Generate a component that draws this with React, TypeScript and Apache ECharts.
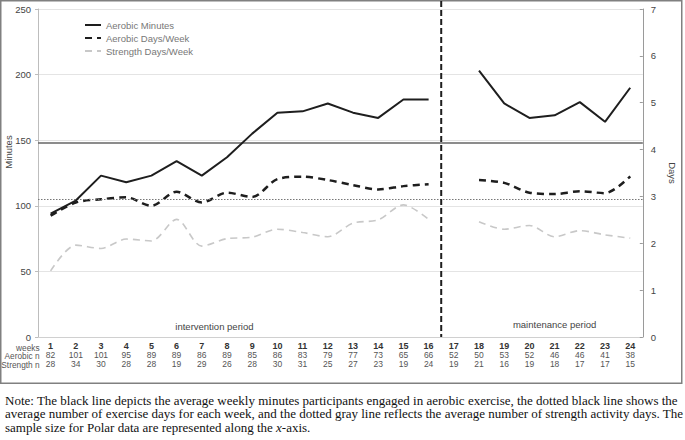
import React, { useEffect, useRef } from "react";
import * as echarts from "echarts";

const weeks = ["1","2","3","4","5","6","7","8","9","10","11","12","13","14","15","16","17","18","19","20","21","22","23","24"];
const aerobicN = [82,101,101,95,89,89,86,89,85,86,83,79,77,73,65,66,52,50,53,52,46,46,41,38];
const strengthN = [28,34,30,28,28,19,29,26,28,30,31,25,27,23,19,24,19,21,16,19,18,17,17,15];
const aerobicMinutes = [94,104,123,118,123,134,123,137,155,171,172,178,171,167,181,181,null,203,178,167,169,179,164,190];
const aerobicDays = [2.59,2.87,2.94,2.98,2.80,3.10,2.87,3.08,2.99,3.37,3.42,3.35,3.24,3.15,3.22,3.26,null,3.35,3.29,3.08,3.05,3.11,3.07,3.43];
const strengthDays = [1.41,1.96,1.89,2.09,2.05,2.51,1.94,2.10,2.13,2.30,2.23,2.14,2.43,2.50,2.82,2.51,null,2.46,2.30,2.38,2.14,2.27,2.18,2.11];
const recommendedMinutes = 148;
const averageDaysLine = 105;
const periodBoundary = ["16", "17"];
const rowHeaders = ["weeks", "Aerobic n", "Strength n"];
const noteLines = [
  "Note: The black line depicts the average weekly minutes participants engaged in aerobic exercise, the dotted black line shows the",
  "average number of exercise days for each week, and the dotted gray line reflects the average number of strength activity days. The",
];
const noteLastParts = ["sample size for Polar data are represented along the ", "x", "-axis."];

const SANS = "'Liberation Sans', Arial, sans-serif";
const SERIF = "'Liberation Serif', 'Times New Roman', serif";

function measure(text: string, font: string): number {
  const ctx = document.createElement("canvas").getContext("2d");
  if (!ctx) return text.length * 5.5;
  ctx.font = font;
  return ctx.measureText(text).width;
}

export default function App() {
  const ref = useRef<HTMLDivElement>(null);
  useEffect(() => {
    if (!ref.current) return;
    const chart = echarts.init(ref.current, null, { renderer: "svg" });
    const option: any = {
      animation: false,
      backgroundColor: "#ffffff",
      grid: { left: 38, right: 28, top: 9, bottom: 103 },
      legend: {
        orient: "vertical",
        left: 79,
        top: 15,
        itemWidth: 16,
        itemHeight: 10,
        itemGap: 3,
        itemStyle: { opacity: 0 },
        data: ["Aerobic Minutes", "Aerobic Days/Week", "Strength Days/Week"],
        textStyle: { color: "#777", fontSize: 9.5, fontFamily: SANS },
      },
      xAxis: {
        type: "category",
        data: weeks,
        boundaryGap: true,
        axisLine: { lineStyle: { color: "#d0d0d0" } },
        axisTick: { show: false },
        axisLabel: {
          interval: 0,
          margin: 5,
          formatter: (v: string, i: number) => `{w|${v}}\n{n|${aerobicN[i]}}\n{n|${strengthN[i]}}`,
          rich: {
            w: { fontWeight: "bold", fontSize: 9, color: "#333", lineHeight: 8.8, fontFamily: SANS },
            n: { fontSize: 8.5, color: "#555", lineHeight: 8.8, fontFamily: SANS },
          },
        },
      },
      yAxis: [
        {
          type: "value",
          min: 0,
          max: 250,
          interval: 50,
          axisLine: { show: true, lineStyle: { color: "#bdbdbd" } },
          axisTick: { show: true, length: 3, lineStyle: { color: "#bdbdbd" } },
          axisLabel: { color: "#444", fontSize: 9.5, fontFamily: SANS, margin: 7 },
          splitLine: { lineStyle: { color: "#e4e4e4", width: 1 } },
        },
        {
          type: "value",
          min: 0,
          max: 7,
          interval: 1,
          position: "right",
          name: "Days",
          nameLocation: "middle",
          nameRotate: -90,
          nameGap: 19,
          nameTextStyle: { color: "#444", fontSize: 9.5, fontFamily: SANS },
          axisLine: { show: true, lineStyle: { color: "#9a9a9a" } },
          axisTick: { show: true, inside: true, length: 3, lineStyle: { color: "#9a9a9a" } },
          axisLabel: { color: "#444", fontSize: 9.5, fontFamily: SANS, margin: 8 },
          splitLine: { show: false },
        },
      ],
      series: [
        {
          name: "Aerobic Minutes",
          type: "line",
          yAxisIndex: 0,
          data: aerobicMinutes,
          symbol: "none",
          connectNulls: false,
          lineStyle: { color: "#1e1e1e", width: 2 },
          itemStyle: { color: "#1e1e1e" },
          z: 5,
          markLine: {
            silent: true,
            symbol: "none",
            label: { show: false },
            data: [
              { yAxis: recommendedMinutes, lineStyle: { color: "#666", width: 1.5, type: "solid" } },
              { yAxis: averageDaysLine, lineStyle: { color: "#777", width: 1.2, type: [1.5, 1.5] } },
            ],
          },
        },
        {
          name: "Aerobic Days/Week",
          type: "line",
          yAxisIndex: 1,
          data: aerobicDays,
          symbol: "none",
          smooth: 0.3,
          connectNulls: false,
          lineStyle: { color: "#1e1e1e", width: 2.5, type: [7, 5] },
          itemStyle: { color: "#1e1e1e" },
          z: 4,
        },
        {
          name: "Strength Days/Week",
          type: "line",
          yAxisIndex: 1,
          data: strengthDays,
          symbol: "none",
          smooth: 0.3,
          connectNulls: false,
          lineStyle: { color: "#c8c8c8", width: 1.6, type: [7, 5] },
          itemStyle: { color: "#c8c8c8" },
          z: 3,
        },
      ],
    };
    chart.setOption(option);

    const px = (c: string) => chart.convertToPixel({ xAxisIndex: 0 }, c) as number;
    const xDiv = (px(periodBoundary[0]) + px(periodBoundary[1])) / 2;
    const yBottom = chart.convertToPixel({ yAxisIndex: 0 }, 0) as number;
    const x1 = px(weeks[0]);
    const xInt = (px("3") + px("12")) / 2;
    const xMaint = (px("18") + px("24")) / 2;

    const graphic: any[] = [
      {
        type: "rect",
        shape: { x: 0.75, y: 0.75, width: 681, height: 382.5 },
        style: { fill: "none", stroke: "#808080", lineWidth: 1.5 },
        silent: true,
      },
      {
        type: "line",
        shape: { x1: xDiv, y1: 1, x2: xDiv, y2: yBottom },
        style: { stroke: "#1e1e1e", lineWidth: 2, lineDash: [6, 3] },
        z: 10,
      },
      {
        type: "text",
        x: 8,
        y: 152,
        rotation: Math.PI / 2,
        style: { text: "Minutes", fill: "#444", fontSize: 9.5, fontFamily: SANS, align: "center", verticalAlign: "middle" },
      },
      {
        type: "text",
        x: xInt,
        y: 326,
        style: { text: "intervention period", fill: "#444", fontSize: 9.5, fontFamily: SANS, align: "center", verticalAlign: "middle" },
      },
      {
        type: "text",
        x: xMaint,
        y: 324,
        style: { text: "maintenance period", fill: "#444", fontSize: 9.5, fontFamily: SANS, align: "center", verticalAlign: "middle" },
      },
    ];
    rowHeaders.forEach((h, i) => {
      graphic.push({
        type: "text",
        x: x1 - 11,
        y: yBottom + 10.5 + i * 8.8,
        style: { text: h, fill: "#555", fontSize: 8.3, fontFamily: SANS, align: "right", verticalAlign: "middle" },
      });
    });
    const noteY = [400, 413.6, 427.2];
    noteLines.forEach((t, i) => {
      graphic.push({
        type: "text",
        x: 5,
        y: noteY[i],
        style: { text: t, fill: "#111", fontSize: 13, fontFamily: SERIF, align: "left", verticalAlign: "middle" },
      });
    });
    let cx = 5;
    noteLastParts.forEach((t, i) => {
      const italic = i === 1;
      const font = `${italic ? "italic " : ""}13px 'Liberation Serif', 'Times New Roman', serif`;
      graphic.push({
        type: "text",
        x: cx,
        y: noteY[2],
        style: {
          text: t,
          fill: "#111",
          fontSize: 13,
          fontStyle: italic ? "italic" : "normal",
          fontFamily: SERIF,
          align: "left",
          verticalAlign: "middle",
        },
      });
      cx += measure(t, font);
    });
    chart.setOption({ graphic });

    return () => chart.dispose();
  }, []);
  return <div ref={ref} style={{ position: "fixed", left: 0, top: 0, width: 685, height: 440 }} />;
}
